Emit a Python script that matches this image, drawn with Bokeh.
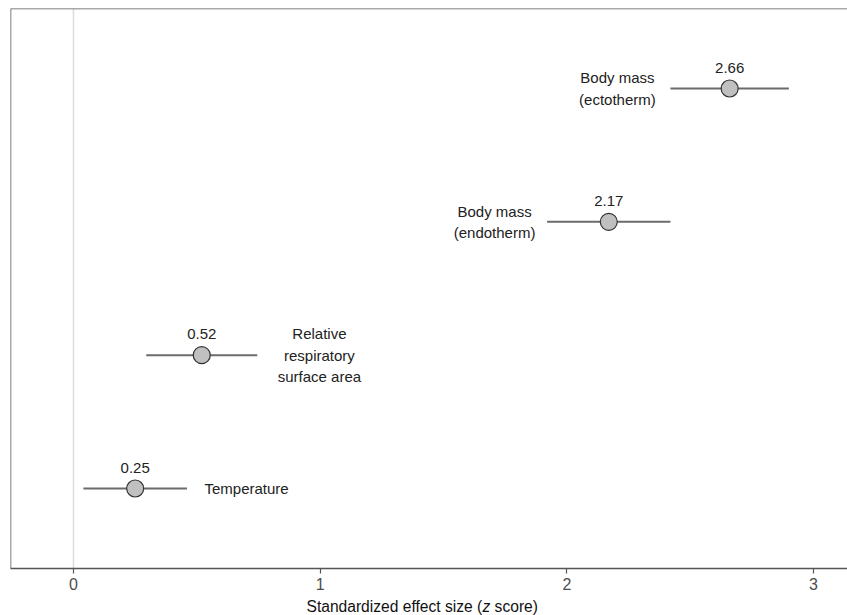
from bokeh.plotting import figure
from bokeh.layouts import column
from bokeh.models import Range1d, Span, FixedTicker, ColumnDataSource
from bokeh.core.properties import value
from bokeh.embed import file_html
from bokeh.resources import INLINE

# ---- data ----
predictors = ["Temperature", "Relative\nrespiratory\nsurface area",
              "Body mass\n(endotherm)", "Body mass\n(ectotherm)"]
rank = [1, 2, 3, 4]
effect = [0.25, 0.52, 2.17, 2.66]
ci_low = [0.04, 0.295, 1.92, 2.42]
ci_high = [0.46, 0.745, 2.42, 2.90]
value_labels = ["0.25", "0.52", "2.17", "2.66"]
x_ticks = [0, 1, 2, 3]

# annotation anchor positions for predictor names (data x)
name_x = [0.531, 0.997, 1.707, 2.205]
# axis title pieces (data x of left edges)
title_parts = ["Standardized effect size (", "z", "score)"]
title_x = [0.9446, 1.6581, 1.7072]

FONT = value("Liberation Sans")
X0, X1 = -0.2554, 3.1378
Y0, Y1 = 0.4, 4.6

p = figure(width=847, height=596, x_range=Range1d(X0, X1), y_range=Range1d(Y0, Y1),
           output_backend="svg", toolbar_location=None, y_axis_location=None,
           min_border_left=10, min_border_right=0, min_border_top=8, min_border_bottom=28)
p.outline_line_color = None
p.grid.visible = False
p.background_fill_color = "white"

# zero line
p.add_layout(Span(location=0, dimension="height", line_color="#dcdcdc", line_width=1.5, level="underlay"))
# left and top frame lines
p.add_layout(Span(location=X0, dimension="height", line_color="#555555", line_width=1.5))
p.add_layout(Span(location=Y1, dimension="width", line_color="#555555", line_width=1.5))

ax = p.xaxis[0]
ax.ticker = FixedTicker(ticks=x_ticks)
ax.axis_line_color = "#555555"
ax.axis_line_width = 1.5
ax.major_tick_line_color = "#555555"
ax.major_tick_line_width = 1.2
ax.minor_tick_line_color = None
ax.major_tick_out = 5
ax.major_tick_in = 0
ax.major_label_standoff = 4
ax.major_label_text_font = "Liberation Sans"
ax.major_label_text_font_size = "16px"
ax.major_label_text_color = "#4d4d4d"

src = ColumnDataSource(dict(rank=rank, effect=effect, lo=ci_low, hi=ci_high, vlab=value_labels))
p.segment(x0="lo", y0="rank", x1="hi", y1="rank", source=src, line_color="#6b6b6b", line_width=2)
p.scatter("effect", "rank", source=src, size=17, fill_color="#c0c0c0", line_color="#333333", line_width=1.2)
p.text("effect", "rank", text="vlab", source=src, text_align="center", text_baseline="middle",
       y_offset=-21, text_font=FONT, text_font_size="15px", text_color="#222222")

left_src = ColumnDataSource(dict(x=name_x[:1], y=rank[:1], t=predictors[:1]))
ctr_src = ColumnDataSource(dict(x=name_x[1:], y=rank[1:], t=predictors[1:]))
p.text("x", "y", text="t", source=left_src, text_align="left", text_baseline="middle",
       text_font=FONT, text_font_size="15px", text_color="#222222", text_line_height=1.27)
p.text("x", "y", text="t", source=ctr_src, text_align="center", text_baseline="middle",
       text_font=FONT, text_font_size="15px", text_color="#222222", text_line_height=1.27)

# axis title strip with italic z
p2 = figure(width=847, height=19, x_range=p.x_range, y_range=Range1d(0, 1),
            output_backend="svg", toolbar_location=None, x_axis_location=None, y_axis_location=None,
            min_border_left=10, min_border_right=0, min_border_top=0, min_border_bottom=0)
p2.outline_line_color = None
p2.grid.visible = False
for i, style in enumerate(["normal", "italic", "normal"]):
    s = ColumnDataSource(dict(x=[title_x[i]], y=[0.5], t=[title_parts[i]]))
    p2.text("x", "y", text="t", source=s, text_align="left", text_baseline="middle",
            text_font=FONT, text_font_size="15.6px", text_font_style=style, text_color="#111111")

layout = column(p, p2, spacing=0)
open("out.html", "w").write(file_html(layout, INLINE))
